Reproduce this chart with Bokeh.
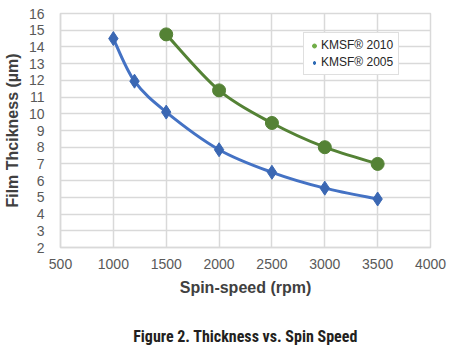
from bokeh.plotting import figure
from bokeh.embed import file_html
from bokeh.resources import INLINE
from bokeh.models import Legend, LegendItem, Title, FixedTicker, Range1d
import numpy as np

# Data
speed_2005 = [1000, 1200, 1500, 2000, 2500, 3000, 3500]
thick_2005 = [14.5, 11.95, 10.1, 7.85, 6.5, 5.55, 4.9]
speed_2010 = [1500, 2000, 2500, 3000, 3500]
thick_2010 = [14.75, 11.4, 9.45, 8.0, 7.0]
x_ticks = [500, 1000, 1500, 2000, 2500, 3000, 3500, 4000]
y_ticks = list(range(2, 17))
labels = ["KMSF\u00ae 2010", "KMSF\u00ae 2005"]

GREEN = "#548235"
GREEN_L = "#70AD47"
BLUE = "#4472C4"
BLUE_M = "#3A67B3"
GRID = "#D9D9D9"
FONT = "Arial, Liberation Sans"


def smooth_segments(xs, ys):
    xs = np.asarray(xs, float)
    ys = np.asarray(ys, float)
    n = len(xs)
    x0, y0, x1, y1, cx0, cy0, cx1, cy1 = [], [], [], [], [], [], [], []
    for i in range(n - 1):
        pxm = xs[i - 1] if i > 0 else xs[i]
        pym = ys[i - 1] if i > 0 else ys[i]
        pxp = xs[i + 2] if i + 2 < n else xs[i + 1]
        pyp = ys[i + 2] if i + 2 < n else ys[i + 1]
        x0.append(xs[i]); y0.append(ys[i])
        x1.append(xs[i + 1]); y1.append(ys[i + 1])
        cx0.append(xs[i] + (xs[i + 1] - pxm) / 6)
        cy0.append(ys[i] + (ys[i + 1] - pym) / 6)
        cx1.append(xs[i + 1] - (pxp - xs[i]) / 6)
        cy1.append(ys[i + 1] - (pyp - ys[i]) / 6)
    return dict(x0=x0, y0=y0, x1=x1, y1=y1, cx0=cx0, cy0=cy0, cx1=cx1, cy1=cy1)


p = figure(width=456, height=352, output_backend="svg", toolbar_location=None,
           x_range=Range1d(500, 4000), y_range=Range1d(2, 16),
           min_border_left=55, min_border_right=26, min_border_top=13,
           min_border_bottom=40)
p.background_fill_color = "white"
p.border_fill_color = "white"
p.outline_line_color = GRID
p.outline_line_width = 1.5

for ax in (p.xaxis[0], p.yaxis[0]):
    ax.axis_line_color = GRID
    ax.axis_line_width = 1.5
    ax.major_tick_line_color = None
    ax.minor_tick_line_color = None
    ax.major_label_text_font = FONT
    ax.major_label_text_font_size = "14px"
    ax.major_label_text_color = "#595959"
    ax.axis_label_text_font = FONT
    ax.axis_label_text_font_size = "16px"
    ax.axis_label_text_font_style = "bold"
    ax.axis_label_text_color = "#404040"

p.xaxis.ticker = FixedTicker(ticks=x_ticks)
p.yaxis.ticker = FixedTicker(ticks=y_ticks)
p.xaxis.axis_label = "Spin-speed (rpm)"
p.yaxis.axis_label = "Film Thcikness (\u00b5m)"
p.xaxis.major_label_standoff = 5
p.yaxis.major_label_standoff = 10
p.xaxis.axis_label_standoff = 7
p.yaxis.axis_label_standoff = 5

p.xgrid.ticker = FixedTicker(ticks=x_ticks)
p.ygrid.ticker = FixedTicker(ticks=y_ticks)
p.grid.grid_line_color = GRID
p.grid.grid_line_width = 1.5

s2010 = smooth_segments(speed_2010, thick_2010)
s2005 = smooth_segments(speed_2005, thick_2005)
p.bezier(x0="x0", y0="y0", x1="x1", y1="y1", cx0="cx0", cy0="cy0", cx1="cx1", cy1="cy1",
         source=s2010, line_color=GREEN, line_width=3)
p.bezier(x0="x0", y0="y0", x1="x1", y1="y1", cx0="cx0", cy0="cy0", cx1="cx1", cy1="cy1",
         source=s2005, line_color=BLUE, line_width=3)

r10 = p.scatter(speed_2010, thick_2010, marker="circle", size=13,
                fill_color=GREEN, line_color=GREEN)
r05 = p.scatter(speed_2005, thick_2005, marker="diamond", size=14,
                fill_color=BLUE_M, line_color=BLUE_M)

# legend-only glyphs
l10 = p.scatter([-100], [-100], marker="circle", size=8, fill_color=GREEN_L, line_color=GREEN_L)
l05 = p.scatter([-100], [-100], marker="diamond", size=12, fill_color="#2E6BB5", line_color="#2E6BB5")

legend = Legend(items=[LegendItem(label=labels[0], renderers=[l10]),
                       LegendItem(label=labels[1], renderers=[l05])],
                location=(243, 172))
legend.label_text_font = FONT
legend.label_text_font_size = "12px"
legend.label_text_color = "#262626"
legend.glyph_width = 10
legend.glyph_height = 13
legend.label_height = 13
legend.label_standoff = 2
legend.spacing = 3
legend.padding = 5
legend.margin = 0
legend.border_line_color = "#BFBFBF"
legend.border_line_width = 1
legend.background_fill_alpha = 1
p.add_layout(legend, "center")

spacer = Title(text=" ", text_font_size="2px", standoff=16)
p.add_layout(spacer, "below")
cap = Title(text="Figure 2. Thickness vs. Spin Speed", align="center",
            text_font="Liberation Sans Narrow, Roboto Condensed, Roboto",
            text_font_size="16px", text_font_style="bold", text_color="#231F20",
            offset=-14, standoff=13)
p.add_layout(cap, "below")

open("out.html", "w").write(file_html(p, INLINE))
